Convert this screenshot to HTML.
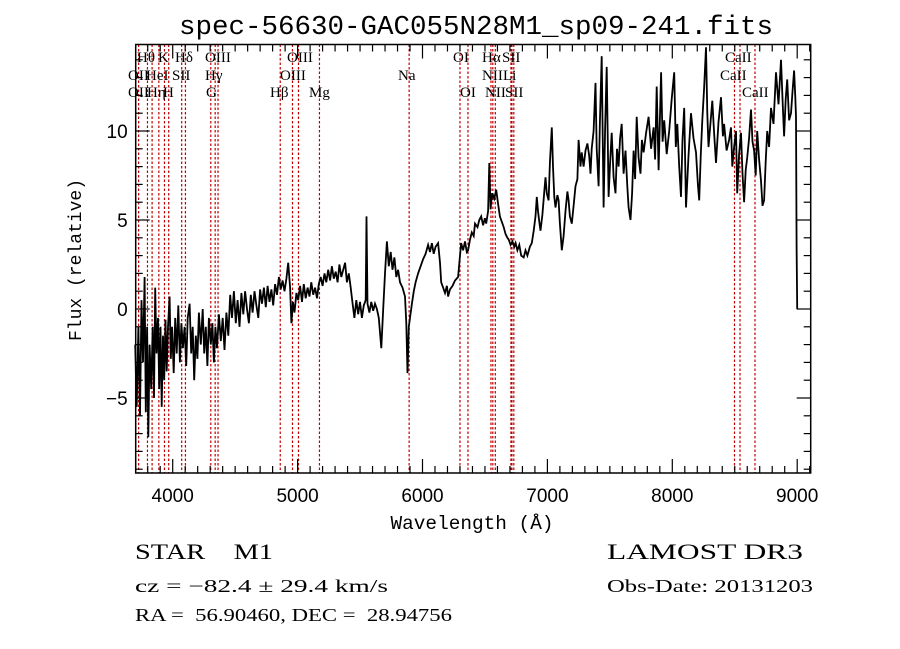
<!DOCTYPE html>
<html><head><meta charset="utf-8"><style>
html,body{margin:0;padding:0;background:#fff;}
svg{display:block;}
text{white-space:pre;}
</style></head><body>
<svg id="chart" width="900" height="649" viewBox="0 0 900 649" xmlns="http://www.w3.org/2000/svg" xml:space="preserve">
<rect x="0" y="0" width="900" height="649" fill="#fff"/>
<text x="476" y="34" font-family="Liberation Mono, monospace" font-size="27" text-anchor="middle" textLength="594" lengthAdjust="spacingAndGlyphs">spec-56630-GAC055N28M1_sp09-241.fits</text>
<g id="lines"></g>
<g id="spec"></g>
<rect x="135.7" y="44.5" width="675" height="428.5" fill="none" stroke="#000" stroke-width="1.5"/>
<g id="axes"></g>
<g id="labels" font-family="Liberation Serif, serif" font-size="15"></g>
<text x="472" y="529" font-family="Liberation Mono, monospace" font-size="19" text-anchor="middle" textLength="163" lengthAdjust="spacingAndGlyphs">Wavelength (Å)</text>
<text transform="translate(81,260) rotate(-90)" font-family="Liberation Mono, monospace" font-size="18" text-anchor="middle" textLength="162" lengthAdjust="spacingAndGlyphs">Flux (relative)</text>
<text x="135" y="559" font-family="Liberation Serif, serif" font-size="22" textLength="138" lengthAdjust="spacingAndGlyphs">STAR    M1</text>
<text x="607" y="559" font-family="Liberation Serif, serif" font-size="22" textLength="196" lengthAdjust="spacingAndGlyphs">LAMOST DR3</text>
<text x="135" y="592" font-family="Liberation Serif, serif" font-size="18" textLength="253" lengthAdjust="spacingAndGlyphs">cz = −82.4 ± 29.4 km/s</text>
<text x="607" y="592" font-family="Liberation Serif, serif" font-size="18" textLength="206" lengthAdjust="spacingAndGlyphs">Obs-Date: 20131203</text>
<text x="135" y="621" font-family="Liberation Serif, serif" font-size="18" textLength="317" lengthAdjust="spacingAndGlyphs">RA =  56.90460, DEC =  28.94756</text>
</svg>
<script>
const wave=[3700,3712,3725,3738,3750,3762,3775,3785,3795,3805,3815,3828,3840,3850,3860,3870,3882,3892,3902,3912,3922,3932,3942,3952,3962,3975,3985,3995,4008,4020,4032,4045,4058,4070,4082,4095,4108,4120,4135,4148,4160,4172,4185,4198,4210,4225,4240,4252,4265,4278,4290,4305,4318,4330,4342,4355,4370,4385,4400,4415,4430,4445,4460,4475,4490,4505,4520,4535,4550,4565,4580,4595,4610,4625,4640,4655,4670,4685,4700,4715,4730,4745,4760,4775,4790,4805,4820,4835,4850,4865,4880,4895,4910,4925,4940,4950,4962,4975,4990,5005,5020,5035,5050,5065,5080,5095,5110,5125,5140,5155,5170,5185,5200,5215,5230,5245,5260,5275,5290,5305,5320,5335,5350,5365,5380,5395,5410,5425,5440,5455,5470,5485,5500,5515,5530,5545,5552,5560,5575,5590,5605,5620,5635,5650,5670,5685,5700,5715,5730,5745,5760,5775,5790,5805,5820,5840,5860,5870,5880,5890,5900,5915,5930,5945,5965,5985,6005,6025,6045,6060,6075,6090,6105,6125,6140,6150,6165,6180,6195,6205,6220,6240,6260,6285,6300,6310,6325,6340,6355,6365,6380,6395,6410,6420,6440,6455,6470,6485,6500,6510,6525,6535,6545,6550,6560,6575,6590,6605,6620,6635,6650,6665,6680,6690,6705,6720,6735,6745,6760,6775,6790,6810,6825,6840,6860,6875,6890,6905,6915,6925,6935,6945,6960,6975,6985,6995,7010,7020,7035,7045,7055,7065,7080,7090,7100,7115,7130,7145,7160,7170,7180,7195,7210,7225,7240,7250,7265,7275,7290,7305,7320,7335,7345,7355,7370,7385,7395,7410,7420,7435,7450,7462,7475,7490,7502,7515,7530,7545,7557,7570,7582,7595,7610,7625,7640,7650,7665,7678,7690,7702,7715,7730,7745,7757,7770,7790,7810,7830,7850,7862,7875,7890,7910,7922,7935,7955,7975,7995,8015,8028,8040,8055,8070,8082,8095,8110,8130,8150,8170,8190,8205,8215,8228,8240,8255,8270,8280,8290,8305,8320,8335,8350,8370,8390,8405,8415,8435,8455,8470,8480,8495,8510,8520,8535,8550,8562,8575,8588,8600,8615,8630,8642,8655,8668,8680,8695,8710,8722,8735,8748,8760,8775,8790,8810,8830,8850,8870,8885,8895,8908,8920,8935,8950,8962,8975,8985,8990,8995,9000];
const flux=[-2,-5.5,-1,-6,0.5,-3,1.8,-5.8,-1,-7.2,-2,-4.5,-1,-5,1.2,-2.5,-0.5,-4.5,-1,-5.5,-1.5,-4,-0.6,-3.5,-1,0.7,-2.8,-1,-3.6,-0.5,-2.5,0.2,-3,-0.8,-2.2,-1,-3.2,-0.5,0.3,-2.5,-1,-4,-1.5,-2.8,-0.2,-2,0,-2.5,-1,-3.2,-0.5,-2,-0.8,-3,-1,-2.2,-0.3,-1.8,-0.5,-2.3,-0.2,-1.5,0.8,-0.5,1,-0.8,0.5,-1,0.9,-0.3,1,0,-0.8,0.8,-0.2,1,0.2,-0.5,1.1,0.3,1.2,0.1,1.3,0.4,1.1,0.2,1.4,0.8,1.8,1.1,1.6,1,1.7,2.6,1.2,-0.8,0.4,-0.2,0.9,0.5,1.3,0.4,1.4,0.6,1.2,0.7,1.5,0.8,1.2,0.6,1.4,1.8,1.3,2,1.5,2.2,1.6,2.4,1.7,2.1,1.5,2.5,1.8,2.2,2.6,1.5,2,1.2,0.3,-0.5,0.5,-0.3,0.4,-0.5,0.2,0.5,5.2,0.3,-0.2,0.4,-0.1,0.3,0,-0.5,-2.2,0,2,3.8,2.4,3.2,2.2,2.9,1.8,2.2,1.5,1.2,0.7,-0.8,-3.6,-1,-0.5,0.3,1,1.5,2,2.4,2.8,3.1,3.6,3.2,3.7,3.1,3.5,3.7,2.6,1.5,1.2,0.9,1.3,0.7,1.1,1.3,1.6,1.8,3,3.7,3.3,3.8,3.2,3.3,3.9,4.3,4.1,4.8,4.6,5.0,5.2,4.7,5.1,4.8,5.5,8.2,5.6,6,6.5,6.2,6.7,5.9,5.2,4.9,4.6,4.2,4.0,3.9,3.6,3.8,3.5,3.7,3.3,3.6,3.0,2.9,3.3,3.0,3.5,3.7,4.4,5.2,6.3,5.5,4.9,4.4,5.3,6.6,7.4,6.5,6.1,8.2,10.2,8.0,6.3,5.7,6.4,6.1,4.8,3.3,4.1,5.5,6.6,6.1,5.2,4.8,5.8,6.9,7.3,9.5,8.0,8.8,8,8.9,9.3,8.6,7.6,9.0,10,12.7,9.0,6.9,10.5,14.2,5.7,10.1,13.6,6.3,8.2,9.9,7.4,6.5,9.0,8,9.6,10.4,7.6,8.9,6.9,5.7,5.0,6.5,8.9,7.3,10.8,8.5,7.6,9.5,8.8,9.9,10.8,9.0,10.2,8.4,12.5,7.8,13.3,9.4,10.6,8.7,10,11.8,13.3,9.1,10.4,8.0,6.3,9.5,11.3,5.7,8.6,11,9.6,8.8,7.0,6.1,8.7,10.6,12.4,14.7,11.0,9.1,10.4,11.7,9.9,8.2,10.5,11.9,9.7,10.4,8.9,9.5,10.2,8,9.1,10,6.5,8.7,9.9,7.6,6,7.8,8.5,9.6,11.2,9.4,8.9,7.5,10,8.4,7.2,5.8,6.1,8.3,10,9.1,11.3,10.4,13.3,11.5,14,11.4,9.7,11.8,12.9,10.6,11,12.2,13.4,11.9,10.8,3.5,0];
const lineWaves=[3727,3798,3835,3889,3934,3968,4072,4102,4305,4340,4363,4861,4959,5007,5175,5893,6300,6364,6548,6563,6583,6708,6716,6731,8498,8542,8662];
const labelText=["Hθ","K","Hδ","OIII","OIII","OII","HeI","SII","Hγ","OIII","Na","Hα","SII","CaII","OII","Hη","H","G","Hβ","Mg","OI","NII","Li","CaII","OI","NII","SII","CaII"];
const labelRow=[1,1,1,1,1,2,2,2,2,2,2,1,1,1,3,3,3,3,3,3,1,2,2,2,3,3,3,3];
const labelX=[137,158,175,205,287,128,146,172,205,280,398,482,502,725,128,147,163,206,270,309,453,482,503,720,460,485,505,742];
const yTicks=[-5,0,5,10];
const xTicks=[4000,5000,6000,7000,8000,9000];
const NS="http://www.w3.org/2000/svg";
const L=135.7,R=810.7,T=44.5,B=473;
function xs(l){return 172.7+(l-4000)*0.1249;}
function ys(f){return 309-f*17.8;}
function mk(tag,attrs,parent){const e=document.createElementNS(NS,tag);for(const k in attrs)e.setAttribute(k,attrs[k]);parent.appendChild(e);return e;}
const lines=document.getElementById('lines');
lineWaves.forEach(w=>{const e=mk('line',{x1:xs(w),x2:xs(w),y1:T,y2:B,stroke:'#c00000','stroke-width':1.2,'stroke-dasharray':'2.5,2'},lines);

});
const spec=document.getElementById('spec');
let d='';wave.forEach((w,i)=>{d+=(i?'L':'M')+xs(w).toFixed(1)+','+ys(flux[i]).toFixed(1);});
const p=mk('path',{d:d,fill:'none',stroke:'#000','stroke-width':1.8,'stroke-linejoin':'miter'},spec);


const axes=document.getElementById('axes');
for(let l=3800;l<=9100;l+=100){const maj=l%1000===0;const len=maj?14:7;
mk('line',{x1:xs(l),x2:xs(l),y1:B,y2:B-len,stroke:'#000','stroke-width':1.2},axes);
mk('line',{x1:xs(l),x2:xs(l),y1:T,y2:T+len,stroke:'#000','stroke-width':1.2},axes);}
xTicks.forEach(t=>{const e=mk('text',{x:xs(t),y:B+29,'font-family':'Liberation Sans, sans-serif','font-size':19,'text-anchor':'middle'},axes);e.textContent=String(t);

});
for(let f=-9;f<=14;f++){const maj=f%5===0;const len=maj?14:7;
mk('line',{x1:L,x2:L+len,y1:ys(f),y2:ys(f),stroke:'#000','stroke-width':1.2},axes);
mk('line',{x1:R,x2:R-len,y1:ys(f),y2:ys(f),stroke:'#000','stroke-width':1.2},axes);}
yTicks.forEach(t=>{const e=mk('text',{x:L-8,y:ys(t)+7,'font-family':'Liberation Sans, sans-serif','font-size':19,'text-anchor':'end'},axes);e.textContent=t<0?'−'+Math.abs(t):String(t);

});
const lab=document.getElementById('labels');
const rowY={1:62,2:80,3:97};
labelText.forEach((t,i)=>{const e=mk('text',{x:labelX[i],y:rowY[labelRow[i]]},lab);e.textContent=t;

});
</script>
</body></html>
